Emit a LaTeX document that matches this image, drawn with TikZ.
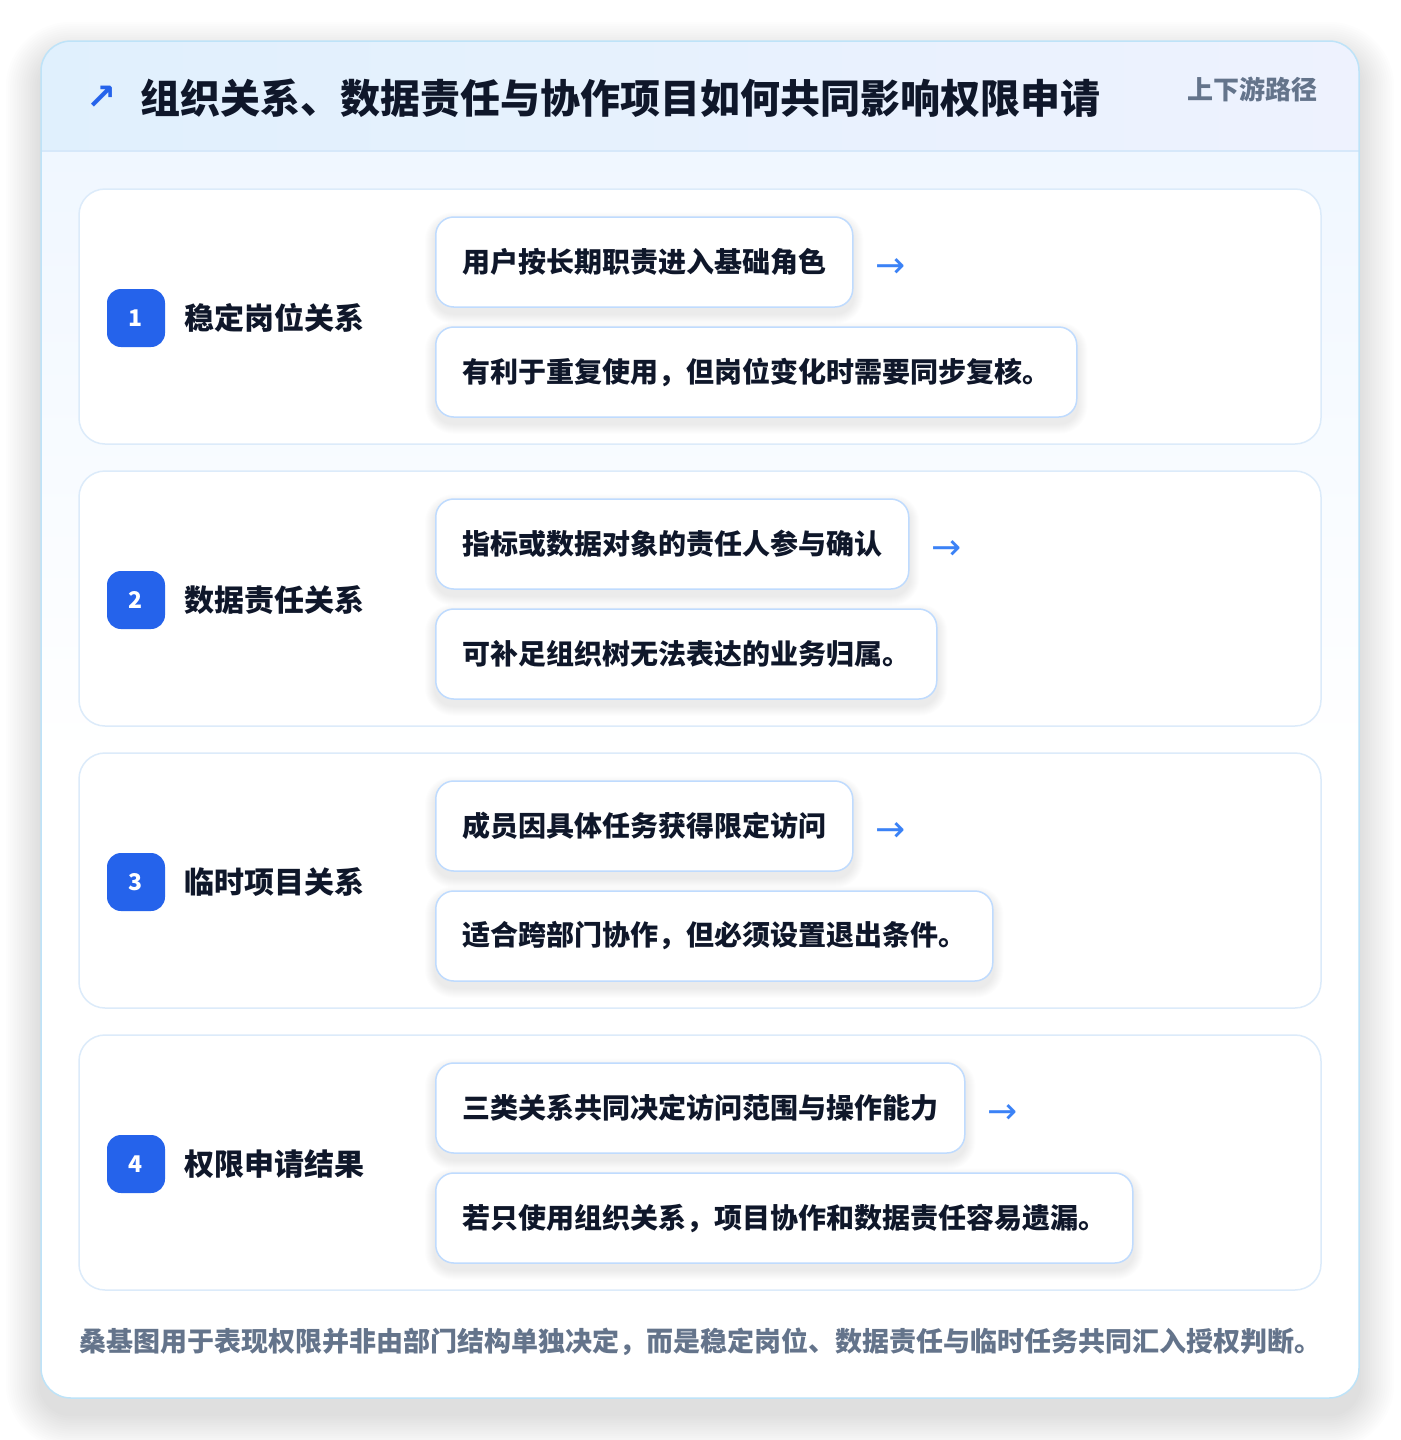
\documentclass[tikz,border=0pt]{standalone}
\usepackage{fontspec}
\setmainfont{Noto Sans CJK SC}
\newfontfamily\symfont{DejaVu Sans}
\pgfdeclarelayer{back}
\pgfdeclarelayer{shad}
\pgfsetlayers{back,shad,main}
\definecolor{titlec}{HTML}{0F172A}
\definecolor{accent}{HTML}{2563EB}
\definecolor{slate}{HTML}{64748B}
\definecolor{outerb}{HTML}{BEE3F8}
\definecolor{rowb}{HTML}{DCEBFA}
\definecolor{boxb}{HTML}{BFDBFE}
\definecolor{arrowc}{HTML}{3B82F6}
\definecolor{headl}{HTML}{E0F0FD}
\definecolor{headr}{HTML}{EEF2FE}
\definecolor{headline}{HTML}{D6E8FA}
\definecolor{bodytop}{HTML}{F0F7FF}
\tikzset{
  rowcard/.style={draw=rowb, line width=1.5pt, fill=white, rounded corners=26pt},
  badge/.style={fill=accent, rounded corners=14pt, minimum size=58pt, inner sep=0pt, text=white, font=\fontsize{23}{26}\selectfont\bfseries},
  rowlabel/.style={anchor=west, inner sep=0pt, text=titlec, font=\fontsize{30}{34}\selectfont\bfseries},
  pill/.style={anchor=west, draw=boxb, line width=1.5pt, fill=white, rounded corners=18pt, minimum height=90pt, inner xsep=26.5pt, inner ysep=0pt, text=titlec, font=\fontsize{28}{32}\selectfont\bfseries},
  arrowtxt/.style={anchor=west, inner sep=0pt, text=arrowc, font=\symfont\fontsize{36}{38}\selectfont},
  shadowlayer/.style={fill=black, opacity=0.008},
}
\newcommand\pillshadow[1]{%
  \begin{pgfonlayer}{shad}
  \foreach \i in {1,...,10} {
    \fill[shadowlayer, rounded corners={18pt+\i pt}] ([xshift=-\i pt, yshift={-6pt-\i pt}]#1.south west) rectangle ([xshift=\i pt, yshift={\i pt-6pt}]#1.north east);
  }
  \end{pgfonlayer}}
\newcommand\myrow[6]{%
  \begin{pgfonlayer}{back}
  \draw[rowcard] (79,#2) rectangle (1321,#2+255);
  \end{pgfonlayer}
  \node[badge] (badge#1) at (136,#2+129) {#1};
  \node[rowlabel] (label#1) at (184,#2+129) {#3};
  \node[pill] (top#1) at (435,#2+73) {#4};
  \node[pill] (bot#1) at (435,#2+183) {#5};
  \pillshadow{top#1}
  \pillshadow{bot#1}
  \node[arrowtxt] (arr#1) at ([xshift=22pt,yshift=-6pt]top#1.east) {→};
}
\begin{document}
\begin{tikzpicture}[x=1pt,y=-1pt]
\useasboundingbox (0,0) rectangle (1400,1440);
\begin{pgfonlayer}{back}
\fill[white] (0,0) rectangle (1400,1440);
% outer shadow
\foreach \i in {1,...,16} {
  \fill[shadowlayer, opacity=0.007, rounded corners={30pt+2.2*\i pt}] ({41-2.2*\i},{41-2.2*\i+16}) rectangle ({1359+2.2*\i},{1398+2.2*\i+16});
}
\fill[white, rounded corners=30pt] (41,41) rectangle (1359,1398);
\begin{scope}
\clip[rounded corners=30pt] (41,41) rectangle (1359,1398);
\shade[left color=headl, right color=headr] (41,41) rectangle (1359,151);
\shade[top color=bodytop, bottom color=white] (41,151) rectangle (1359,760);
\end{scope}
\draw[headline, line width=1.5pt] (41,151) -- (1359,151);
\draw[rounded corners=30pt, draw=outerb, line width=1.5pt] (41,41) rectangle (1359,1398);
\end{pgfonlayer}
% header
\node[inner sep=0pt, text=accent, font=\symfont\bfseries\fontsize{36}{38}\selectfont] (icon) at (102,98) {↗};
\node[anchor=west, inner sep=0pt, text=titlec, font=\fontsize{40}{46}\selectfont\bfseries] (title) at (140,98) {组织关系、数据责任与协作项目如何共同影响权限申请};
\node[anchor=east, inner sep=0pt, text=slate, font=\fontsize{26}{30}\selectfont\bfseries] (tag) at (1318,89) {上下游路径};
% rows
\myrow{1}{189}{稳定岗位关系}{用户按长期职责进入基础角色}{有利于重复使用，但岗位变化时需要同步复核。}{}
\myrow{2}{471}{数据责任关系}{指标或数据对象的责任人参与确认}{可补足组织树无法表达的业务归属。}{}
\myrow{3}{753}{临时项目关系}{成员因具体任务获得限定访问}{适合跨部门协作，但必须设置退出条件。}{}
\myrow{4}{1035}{权限申请结果}{三类关系共同决定访问范围与操作能力}{若只使用组织关系，项目协作和数据责任容易遗漏。}{}
% footer
\node[anchor=west, inner sep=0pt, text=slate, font=\fontsize{27}{30}\selectfont\bfseries] (foot) at (79,1342) {桑基图用于表现权限并非由部门结构单独决定，而是稳定岗位、数据责任与临时任务共同汇入授权判断。};
\end{tikzpicture}
\end{document}
